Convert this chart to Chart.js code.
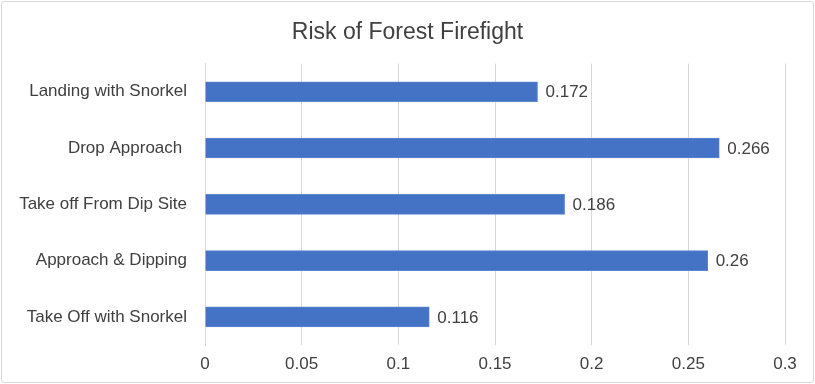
<!DOCTYPE html>
<html>
<head>
<meta charset="utf-8">
<script src="https://cdn.jsdelivr.net/npm/chart.js@4"></script>
<style>
  body { margin: 0; background: #fff; }
  #wrap { position: relative; width: 815px; height: 384px; }
  #frame { position: absolute; left: 1px; top: 1px; right: 1px; bottom: 1px; border: 1px solid #d9d9d9; border-radius: 3px; pointer-events: none; }
</style>
</head>
<body>
<div id="wrap">
  <canvas id="chart" width="815" height="384"></canvas>
  <div id="frame"></div>
</div>
<script>
const categories = ['Landing with Snorkel', 'Drop Approach ', 'Take off From Dip Site', 'Approach & Dipping', 'Take Off with Snorkel'];
const riskValues = [0.172, 0.266, 0.186, 0.26, 0.116];
const xTicks = [0, 0.05, 0.1, 0.15, 0.2, 0.25, 0.3];

const FONT = "'Liberation Sans', Arial, sans-serif";
const TEXT = '#404040';

// value labels at the bar ends
const barLabels = {
  id: 'barLabels',
  afterLayout(chart) {
    // center the title on the whole canvas, not the padded box
    if (chart.titleBlock) { chart.titleBlock.left = 0; chart.titleBlock.right = chart.width; }
  },
  afterDatasetsDraw(chart) {
    const ctx = chart.ctx;
    const meta = chart.getDatasetMeta(0);
    ctx.save();
    ctx.font = '17px ' + FONT;
    ctx.fillStyle = TEXT;
    ctx.textAlign = 'left';
    ctx.textBaseline = 'middle';
    meta.data.forEach((bar, i) => {
      ctx.fillText(String(riskValues[i]), bar.x + 8, bar.y + 1);
    });
    ctx.restore();
  }
};

new Chart(document.getElementById('chart').getContext('2d'), {
  type: 'bar',
  data: {
    labels: categories,
    datasets: [{
      data: riskValues,
      backgroundColor: '#4472c4',
      borderColor: '#5b86d0',
      borderWidth: 1,
      barThickness: 20,
    }]
  },
  options: {
    indexAxis: 'y',
    animation: false,
    responsive: false,
    devicePixelRatio: 1,
    layout: { padding: { top: 0, right: 30, bottom: 0, left: 0 } },
    scales: {
      x: {
        min: 0, max: 0.3,
        afterBuildTicks: (s) => { s.ticks = xTicks.map(v => ({ value: v })); },
        afterFit: (s) => { s.height = 39; },
        grid: { color: '#d9d9d9', drawTicks: false },
        border: { display: false },
        ticks: { color: TEXT, font: { size: 17, family: FONT }, padding: 9, callback: (v) => String(v) },
      },
      y: {
        afterFit: (s) => { s.width = 205; },
        grid: { display: false, drawTicks: false },
        border: { color: '#d9d9d9' },
        ticks: { color: TEXT, font: { size: 17, family: FONT }, padding: 18 },
      },
    },
    plugins: {
      legend: { display: false },
      tooltip: { enabled: false },
      title: {
        display: true,
        text: 'Risk of Forest Firefight',
        color: TEXT,
        font: { size: 23, weight: 'normal', family: FONT },
        padding: { top: 19, bottom: 17 },
      },
    },
  },
  plugins: [barLabels],
});
</script>
</body>
</html>
